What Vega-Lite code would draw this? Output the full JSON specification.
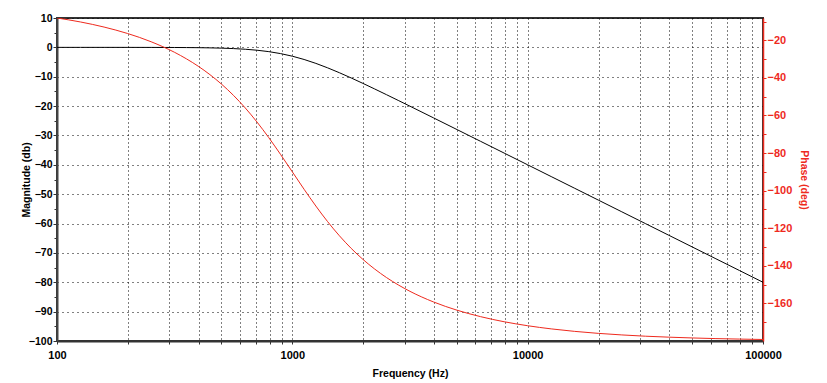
{
  "$schema": "https://vega.github.io/schema/vega-lite/v6.json",
  "width": 706,
  "height": 323,
  "autosize": "none",
  "padding": {"left": 57, "top": 18, "right": 64, "bottom": 42},
  "background": "white",
  "config": {
    "view": {"stroke": "#333333", "strokeWidth": 2},
    "font": "Liberation Sans",
    "axis": {"labelFont": "Liberation Sans", "titleFont": "Liberation Sans", "labelFontWeight": "bold", "titleFontWeight": "bold", "labelFontSize": 11, "titleFontSize": 10.5}
  },
  "data": {"values": [
    {"f": 100, "mag": -0.0004, "phase": -8.13},
    {"f": 125.89, "mag": -0.0011, "phase": -10.25},
    {"f": 158.49, "mag": -0.0027, "phase": -12.95},
    {"f": 199.53, "mag": -0.0069, "phase": -16.38},
    {"f": 251.19, "mag": -0.0173, "phase": -20.77},
    {"f": 316.23, "mag": -0.0432, "phase": -26.42},
    {"f": 354.81, "mag": -0.0683, "phase": -29.86},
    {"f": 398.11, "mag": -0.1077, "phase": -33.78},
    {"f": 446.68, "mag": -0.1695, "phase": -38.28},
    {"f": 501.19, "mag": -0.2657, "phase": -43.42},
    {"f": 562.34, "mag": -0.4139, "phase": -49.31},
    {"f": 630.96, "mag": -0.639, "phase": -56.0},
    {"f": 707.95, "mag": -0.9732, "phase": -63.51},
    {"f": 794.33, "mag": -1.455, "phase": -71.81},
    {"f": 891.25, "mag": -2.1245, "phase": -80.73},
    {"f": 1000, "mag": -3.01, "phase": -90.0},
    {"f": 1122.0, "mag": -4.1245, "phase": -99.27},
    {"f": 1258.9, "mag": -5.455, "phase": -108.19},
    {"f": 1412.5, "mag": -6.973, "phase": -116.49},
    {"f": 1584.9, "mag": -8.639, "phase": -124.0},
    {"f": 1778.3, "mag": -10.414, "phase": -130.69},
    {"f": 1995.3, "mag": -12.266, "phase": -136.58},
    {"f": 2238.7, "mag": -14.17, "phase": -141.72},
    {"f": 2511.9, "mag": -16.108, "phase": -146.22},
    {"f": 2818.4, "mag": -18.068, "phase": -150.14},
    {"f": 3162.3, "mag": -20.043, "phase": -153.58},
    {"f": 3981.1, "mag": -24.017, "phase": -159.23},
    {"f": 5011.9, "mag": -28.007, "phase": -163.62},
    {"f": 6309.6, "mag": -32.003, "phase": -167.05},
    {"f": 7943.3, "mag": -36.001, "phase": -169.75},
    {"f": 10000, "mag": -40.0, "phase": -171.87},
    {"f": 12589, "mag": -44.0, "phase": -173.55},
    {"f": 15849, "mag": -48.0, "phase": -174.88},
    {"f": 19953, "mag": -52.0, "phase": -175.94},
    {"f": 25119, "mag": -56.0, "phase": -176.77},
    {"f": 31623, "mag": -60.0, "phase": -177.44},
    {"f": 39811, "mag": -64.0, "phase": -177.96},
    {"f": 50119, "mag": -68.0, "phase": -178.38},
    {"f": 63096, "mag": -72.0, "phase": -178.72},
    {"f": 79433, "mag": -76.0, "phase": -178.98},
    {"f": 100000, "mag": -80.0, "phase": -179.19}
  ]},
  "encoding": {
    "x": {
      "field": "f", "type": "quantitative",
      "scale": {"type": "log", "domain": [100, 100000], "nice": false},
      "axis": {
        "title": "Frequency (Hz)",
        "values": [100, 200, 300, 400, 500, 600, 700, 800, 900, 1000, 2000, 3000, 4000, 5000, 6000, 7000, 8000, 9000, 10000, 20000, 30000, 40000, 50000, 60000, 70000, 80000, 90000, 100000],
        "labelExpr": "indexof([100, 1000, 10000, 100000], datum.value) >= 0 ? format(datum.value, 'd') : ''",
        "labelFlush": false,
        "labelOverlap": false,
        "labelColor": "black",
        "labelPadding": 5,
        "tickSize": 3,
        "tickColor": "#333333",
        "domainColor": "#333333",
        "domainWidth": 2,
        "grid": true,
        "gridColor": "#000000",
        "gridDash": [1, 3],
        "gridOpacity": 1,
        "titleColor": "black",
        "titlePadding": 8
      }
    }
  },
  "layer": [
    {
      "mark": {"type": "line", "color": "black", "strokeWidth": 1, "interpolate": "monotone", "clip": true},
      "encoding": {
        "y": {
          "field": "mag", "type": "quantitative",
          "scale": {"domain": [-100, 10], "nice": false, "zero": false},
          "axis": {
            "orient": "left",
            "title": "Magnitude (db)",
            "values": [-100, -95, -90, -85, -80, -75, -70, -65, -60, -55, -50, -45, -40, -35, -30, -25, -20, -15, -10, -5, 0, 5, 10],
            "labelExpr": "datum.value % 10 === 0 ? datum.label : ''",
            "labelOverlap": false,
            "labelColor": "black",
            "labelFontSize": 10.5,
            "labelPadding": 1,
            "tickSize": {"condition": {"test": "datum.value % 10 === 0", "value": 4}, "value": 3},
            "tickColor": "#333333",
            "domainColor": "#444444",
            "domainWidth": 2,
            "grid": true,
            "gridColor": "#000000",
            "gridDash": [1, 4],
            "gridOpacity": {"condition": {"test": "datum.value % 10 === 0", "value": 1}, "value": 0},
            "titleColor": "black",
            "titleBaseline": "bottom",
            "titleX": -26,
            "titleY": 161.5
          }
        }
      }
    },
    {
      "mark": {"type": "line", "color": "#ee2a1e", "strokeWidth": 1, "interpolate": "monotone", "clip": true},
      "encoding": {
        "y": {
          "field": "phase", "type": "quantitative",
          "scale": {"domain": [-180, -8.13], "nice": false, "zero": false},
          "axis": {
            "orient": "right",
            "title": "Phase (deg)",
            "values": [-170, -160, -150, -140, -130, -120, -110, -100, -90, -80, -70, -60, -50, -40, -30, -20, -10],
            "labelExpr": "datum.value % 20 === 0 ? datum.label : ''",
            "labelOverlap": false,
            "labelColor": "#ee2a1e",
            "labelPadding": 1,
            "tickSize": 3,
            "tickColor": "#ee2a1e",
            "domainColor": "#ee2a1e",
            "domainWidth": 1.5,
            "grid": false,
            "titleColor": "#ee2a1e",
            "titleBaseline": "bottom",
            "titleX": 35,
            "titleY": 161.5
          }
        }
      }
    }
  ],
  "resolve": {"scale": {"y": "independent"}}
}
